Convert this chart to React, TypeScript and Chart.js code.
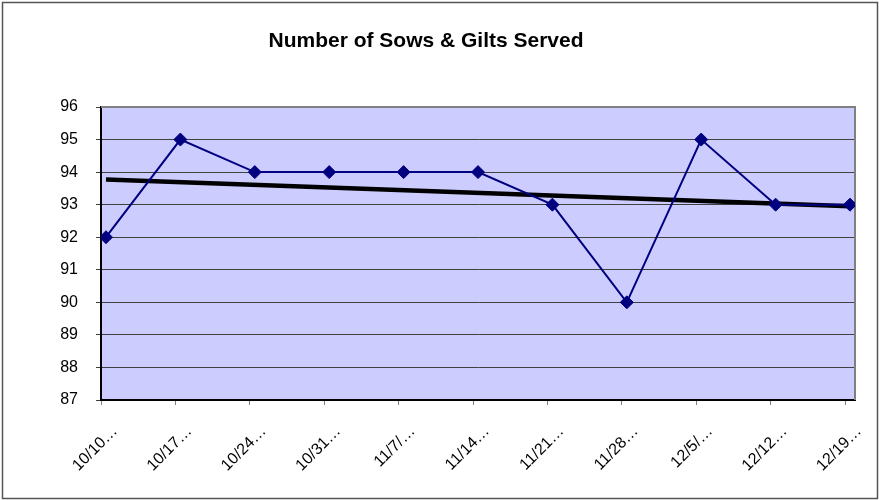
import React, { useEffect, useRef } from "react";
import { Chart, registerables } from "chart.js";

Chart.register(...registerables);

const categories = ["10/10…", "10/17…", "10/24…", "10/31…", "11/7/…", "11/14…", "11/21…", "11/28…", "12/5/…", "12/12…", "12/19…"];
const served = [92, 95, 94, 94, 94, 94, 93, 90, 95, 93, 93];
const trendIndex = [0, 10];
const trendValues = [93.77, 92.95];
const yMin = 87;
const yMax = 96;
const titleText = "Number of Sows & Gilts Served";

const EDGE = 0.067;

export default function App() {
  const ref = useRef<HTMLCanvasElement | null>(null);
  useEffect(() => {
    const canvas = ref.current;
    if (!canvas) return;
    const framePlugin = {
      id: "frame",
      beforeDraw(chart: any) {
        const { ctx, chartArea: a } = chart;
        ctx.save();
        ctx.fillStyle = "#ffffff";
        ctx.fillRect(0, 0, chart.width, chart.height);
        ctx.strokeStyle = "#555555";
        ctx.lineWidth = 1.5;
        ctx.strokeRect(2.5, 2.5, chart.width - 4, chart.height - 4);
        ctx.fillStyle = "#CCCCFF";
        ctx.fillRect(a.left, a.top, a.right - a.left, a.bottom - a.top);
        ctx.fillStyle = "#000000";
        ctx.font = "bold 21px 'Liberation Sans', Arial, sans-serif";
        ctx.textAlign = "center";
        ctx.textBaseline = "alphabetic";
        ctx.fillText(titleText, 426, 47);
        ctx.restore();
      },
      beforeDatasetsDraw(chart: any) {
        const { ctx, chartArea: a } = chart;
        ctx.save();
        ctx.strokeStyle = "#808080";
        ctx.lineWidth = 2;
        ctx.beginPath();
        ctx.moveTo(a.left, a.top);
        ctx.lineTo(a.right, a.top);
        ctx.lineTo(a.right, a.bottom);
        ctx.stroke();
        ctx.restore();
      },
    };
    const chart = new Chart(canvas, {
      type: "line",
      data: {
        datasets: [
          {
            label: "Served",
            data: served.map((v, i) => ({ x: i, y: v })),
            borderColor: "#000080",
            backgroundColor: "#000080",
            borderWidth: 2,
            pointStyle: "rectRot",
            pointRadius: 6.5,
            pointBorderWidth: 1,
            pointBackgroundColor: "#000080",
            pointBorderColor: "#000080",
            tension: 0,
          },
          {
            label: "Trend",
            data: trendIndex.map((x, i) => ({ x, y: trendValues[i] })),
            borderColor: "#000000",
            borderWidth: 4.5,
            pointRadius: 0,
            tension: 0,
          },
        ],
      },
      options: {
        responsive: false,
        animation: false,
        layout: { padding: { top: 107, right: 24, left: 0, bottom: 0 } },
        plugins: { legend: { display: false }, tooltip: { enabled: false }, title: { display: false } },
        scales: {
          x: {
            type: "linear",
            min: -EDGE,
            max: categories.length - 1 + EDGE,
            afterFit(scale: any) {
              scale.height = 100;
            },
            afterBuildTicks(scale: any) {
              scale.ticks = categories.map((_, i) => ({ value: i - EDGE }));
            },
            border: { display: true, color: "#000000", width: 2 },
            grid: { display: true, drawOnChartArea: false, drawTicks: true, tickLength: 5, color: "#808080", lineWidth: 1 },
            ticks: {
              autoSkip: false,
              maxRotation: 45,
              minRotation: 45,
              padding: 17,
              labelOffset: 14,
              color: "#000000",
              font: { family: "'Liberation Sans', Arial, sans-serif", size: 16 },
              callback: (_v: any, i: number) => categories[i],
            },
          },
          y: {
            min: yMin,
            max: yMax,
            afterFit(scale: any) {
              scale.width = 101;
            },
            border: { display: true, color: "#000000", width: 2 },
            grid: { color: "#404040", lineWidth: 1, tickLength: 5, drawTicks: true },
            ticks: {
              stepSize: 1,
              padding: 18,
              color: "#000000",
              font: { family: "'Liberation Sans', Arial, sans-serif", size: 16 },
            },
          },
        },
      },
      plugins: [framePlugin],
    } as any);
    return () => chart.destroy();
  }, []);
  return (
    <div style={{ position: "fixed", left: 0, top: 0, width: 879, height: 500 }}>
      <canvas ref={ref} width={879} height={500} style={{ width: 879, height: 500 }} />
    </div>
  );
}
